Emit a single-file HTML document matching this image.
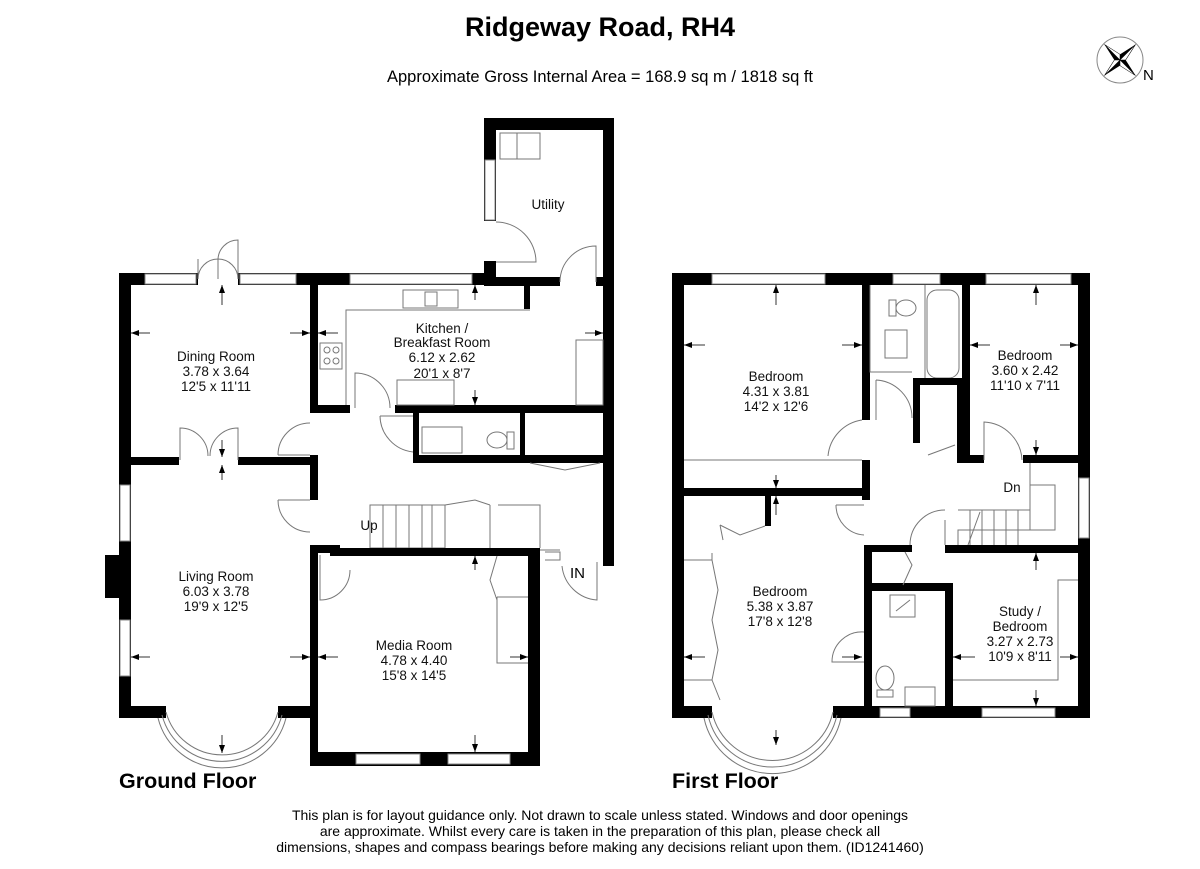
<!DOCTYPE html>
<html><head><meta charset="utf-8"><style>
html,body{margin:0;padding:0;background:#fff;}
svg{display:block;font-family:"Liberation Sans",Arial,sans-serif;}
.w{fill:#000}
.win{fill:#fff;stroke:#888;stroke-width:1}
.t{stroke:#777;stroke-width:1;fill:none}
.a{stroke:#333;stroke-width:1;fill:none;marker-end:url(#ah)}
.lbl{font-size:13.5px;text-anchor:middle;fill:#111}
</style></head><body>
<svg width="1200" height="869" viewBox="0 0 1200 869" xmlns="http://www.w3.org/2000/svg">
<defs><marker id="ah" markerWidth="8" markerHeight="6" refX="8" refY="3" orient="auto" markerUnits="userSpaceOnUse"><path d="M0,0 L8,3 L0,6 Z" fill="#000"/></marker></defs>
<text x="600" y="36" font-size="27" font-weight="bold" text-anchor="middle">Ridgeway Road, RH4</text>
<text x="600" y="82" font-size="16.5" text-anchor="middle">Approximate Gross Internal Area = 168.9 sq m / 1818 sq ft</text>
<!-- compass -->
<g transform="translate(1120,60)">
<circle r="23" fill="none" stroke="#888" stroke-width="1"/>
<g transform="rotate(-45)">
<polygon points="0,-22 4,-4 22,0 4,4 0,22 -4,4 -22,0 -4,-4" fill="#000"/>
<polygon points="0,-22 4,-4 0,0" fill="#fff" stroke="#000" stroke-width="0.5"/>
<polygon points="22,0 4,4 0,0" fill="#fff" stroke="#000" stroke-width="0.5"/>
<polygon points="0,22 -4,4 0,0" fill="#fff" stroke="#000" stroke-width="0.5"/>
<polygon points="-22,0 -4,-4 0,0" fill="#fff" stroke="#000" stroke-width="0.5"/>
</g>
</g>
<text x="1143" y="80" font-size="15">N</text>

<!-- ===== GROUND FLOOR ===== -->
<g>
<rect class="w" x="119" y="273" width="12" height="445"/>
<rect class="w" x="105" y="555" width="16" height="43"/>
<rect class="win" x="120" y="485" width="10" height="56"/>
<rect class="win" x="120" y="620" width="10" height="56"/>
<rect class="w" x="119" y="706" width="47" height="12"/>
<rect class="w" x="278" y="706" width="38" height="12"/>
<path class="t" d="M166 712 A58 58 0 0 0 278 712"/>
<path class="t" d="M162 715 A62 62 0 0 0 282 715"/>
<path class="t" d="M158 718 A66 66 0 0 0 286 718"/>
<rect class="w" x="119" y="273" width="377" height="12"/>
<rect class="win" x="145" y="274" width="51" height="10"/>
<rect class="win" x="240" y="274" width="56" height="10"/>
<rect fill="#fff" x="198" y="272" width="40" height="14"/>
<path class="t" d="M198 279 A20 20 0 0 1 218 259 L218 279 M238 279 A20 20 0 0 0 218 259"/>
<path class="t" d="M198 279 L198 259"/><path class="t" d="M238 279 L238 240 A20 20 0 0 0 218 260"/>
<rect class="win" x="350" y="274" width="122" height="10"/>
<!-- utility -->
<rect class="w" x="484" y="118" width="130" height="12"/>
<rect class="w" x="484" y="118" width="12" height="168"/>
<rect class="w" x="603" y="118" width="11" height="448"/>
<rect class="win" x="485" y="160" width="10" height="60"/>
<rect fill="#fff" x="483" y="221" width="14" height="40"/>
<path class="t" d="M496 262 L536 262 A40 40 0 0 0 496 222"/>
<rect class="w" x="496" y="277" width="64" height="9"/>
<rect class="w" x="596" y="277" width="10" height="9"/>
<path class="t" d="M560 282 A36 36 0 0 1 596 246 L596 282"/>
<rect class="t" x="500" y="133" width="40" height="26"/><line class="t" x1="517" y1="133" x2="517" y2="159"/>
<text class="lbl" x="548" y="209">Utility</text>
<!-- kitchen -->
<rect class="w" x="310" y="285" width="8" height="128"/>
<rect class="w" x="310" y="405" width="40" height="8"/>
<rect class="w" x="395" y="405" width="215" height="8"/>
<rect class="w" x="524" y="285" width="6" height="24"/>
<path class="t" d="M530 310 L346 310 L346 405 M355 408 L355 373 A35 35 0 0 1 390 408"/>
<rect class="t" x="320" y="343" width="22" height="26"/>
<circle class="t" cx="327" cy="350" r="3"/><circle class="t" cx="336" cy="350" r="3"/><circle class="t" cx="327" cy="361" r="3"/><circle class="t" cx="336" cy="361" r="3"/>
<rect class="t" x="403" y="290" width="55" height="18"/><rect class="t" x="425" y="292" width="12" height="14"/>
<rect class="t" x="397" y="380" width="57" height="25"/>
<rect class="t" x="576" y="340" width="27" height="65"/>
<text class="lbl" x="442" y="333">Kitchen /</text>
<text class="lbl" x="442" y="347">Breakfast Room</text>
<text class="lbl" x="442" y="362">6.12 x 2.62</text>
<text class="lbl" x="442" y="378">20'1 x 8'7</text>
<!-- WC / cupboard -->
<rect class="w" x="413" y="413" width="6" height="50"/>
<rect class="w" x="413" y="455" width="195" height="8"/>
<rect class="w" x="520" y="413" width="5" height="44"/>
<rect class="t" x="422" y="427" width="40" height="26"/>
<ellipse class="t" cx="497" cy="440" rx="10" ry="8"/><rect class="t" x="507" y="432" width="7" height="17"/>
<path class="t" d="M380 416 L413 416 M380 416 A37 37 0 0 0 413 452"/>
<path class="t" d="M530 463 L565 470 L600 463"/>
<!-- dining bottom / hall -->
<rect class="w" x="119" y="457" width="60" height="8"/>
<rect class="w" x="238" y="457" width="80" height="8"/>
<path class="t" d="M180 460 L180 428 A28 28 0 0 1 208 456 M238 460 L238 428 A28 28 0 0 0 210 456"/>
<rect class="w" x="310" y="455" width="8" height="45"/>
<path class="t" d="M278 455 L310 455 M278 455 A32 32 0 0 1 310 423"/>
<path class="t" d="M278 500 L310 500 M278 500 A32 32 0 0 0 310 532"/>
<rect class="w" x="310" y="545" width="8" height="221"/>
<text class="lbl" x="216" y="361">Dining Room</text>
<text class="lbl" x="216" y="376">3.78 x 3.64</text>
<text class="lbl" x="216" y="391">12'5 x 11'11</text>
<text class="lbl" x="216" y="581">Living Room</text>
<text class="lbl" x="216" y="596">6.03 x 3.78</text>
<text class="lbl" x="216" y="611">19'9 x 12'5</text>
<!-- stairs -->
<path class="t" d="M370 505 L445 505 L445 548 L370 548 Z M383 505 V548 M396 505 V548 M409 505 V548 M422 505 V548 M432 505 V548"/>
<path class="t" d="M445 505 L475 500 L490 505 M498 505 H540 V548 M490 505 V548"/>
<text class="lbl" x="369" y="530">Up</text>
<!-- media room -->
<rect class="w" x="310" y="545" width="30" height="8"/>
<rect class="w" x="330" y="548" width="210" height="8"/>
<rect class="w" x="528" y="548" width="12" height="218"/>
<rect class="w" x="310" y="752" width="230" height="14"/>
<rect class="win" x="356" y="754" width="64" height="10"/>
<rect class="win" x="448" y="754" width="62" height="10"/>
<path class="t" d="M320 555 L320 600 A30 30 0 0 0 350 570"/>
<path class="t" d="M497 556 L490 580 L497 600 M497 597 H528 M497 597 V663 H528"/>
<path class="t" d="M540 550 H560 M545 552 H560 V560 H545"/>
<path class="t" d="M597 562 V600 A38 38 0 0 1 562 566"/>
<text x="570" y="578" font-size="15">IN</text>
<text class="lbl" x="414" y="650">Media Room</text>
<text class="lbl" x="414" y="665">4.78 x 4.40</text>
<text class="lbl" x="414" y="680">15'8 x 14'5</text>
<!-- dimension arrows -->
<path class="a" d="M150 333 H131"/><path class="a" d="M290 333 H310"/>
<path class="a" d="M222 305 V285"/><path class="a" d="M222 440 V457"/>
<path class="a" d="M338 333 H318"/><path class="a" d="M585 333 H603"/>
<path class="a" d="M475 300 V285"/><path class="a" d="M475 390 V405"/>
<path class="a" d="M150 657 H131"/><path class="a" d="M290 657 H310"/>
<path class="a" d="M222 480 V465"/><path class="a" d="M222 735 V753"/>
<path class="a" d="M338 657 H318"/><path class="a" d="M510 657 H528"/>
<path class="a" d="M475 570 V556"/><path class="a" d="M475 735 V752"/>
</g>
<text x="119" y="788" font-size="21.5" font-weight="bold">Ground Floor</text>

<!-- ===== FIRST FLOOR ===== -->
<g>
<rect class="w" x="672" y="273" width="418" height="12"/>
<rect class="win" x="712" y="274" width="113" height="10"/>
<rect class="win" x="893" y="274" width="47" height="10"/>
<rect class="win" x="986" y="274" width="85" height="10"/>
<rect class="w" x="672" y="273" width="12" height="445"/>
<rect class="w" x="1078" y="273" width="12" height="445"/>
<rect class="win" x="1079" y="478" width="10" height="60"/>
<rect class="w" x="672" y="706" width="40" height="12"/>
<rect class="w" x="833" y="706" width="257" height="12"/>
<rect class="win" x="880" y="708" width="30" height="9"/>
<rect class="win" x="982" y="708" width="73" height="9"/>
<path class="t" d="M712 712 A62 62 0 0 0 833 712"/>
<path class="t" d="M708 715 A66 66 0 0 0 837 715"/>
<path class="t" d="M704 718 A70 70 0 0 0 841 718"/>
<rect class="w" x="862" y="285" width="8" height="135"/>
<rect class="w" x="862" y="460" width="8" height="40"/>
<rect class="w" x="684" y="488" width="186" height="8"/>
<path class="t" d="M684 460 H862 M862 420 A40 40 0 0 0 828 456"/>
<text class="lbl" x="776" y="381">Bedroom</text>
<text class="lbl" x="776" y="396">4.31 x 3.81</text>
<text class="lbl" x="776" y="411">14'2 x 12'6</text>
<path class="t" d="M870 285 V372 H912 M925 285 V378"/>
<rect class="t" x="927" y="290" width="32" height="88" rx="10"/>
<ellipse class="t" cx="906" cy="308" rx="10" ry="8"/><rect class="t" x="889" y="300" width="7" height="16"/>
<rect class="t" x="885" y="330" width="22" height="28"/>
<rect class="w" x="913" y="378" width="52" height="7"/>
<rect class="w" x="913" y="378" width="7" height="65"/>
<rect class="w" x="957" y="378" width="8" height="85"/>
<path class="t" d="M876 380 V420 M876 380 A38 38 0 0 1 912 418"/>
<path class="t" d="M928 455 L955 445"/>
<rect class="w" x="962" y="285" width="8" height="178"/>
<rect class="w" x="962" y="455" width="22" height="8"/>
<rect class="w" x="1023" y="455" width="67" height="8"/>
<path class="t" d="M984 460 V422 A40 40 0 0 1 1022 460"/>
<text class="lbl" x="1025" y="360">Bedroom</text>
<text class="lbl" x="1025" y="375">3.60 x 2.42</text>
<text class="lbl" x="1025" y="390">11'10 x 7'11</text>
<path class="t" d="M1030 463 V530 M1030 485 H1055 V530 H958 V545 M958 510 H1030 M970 510 V545 M982 510 V545 M994 510 V545 M1006 510 V545 M1018 510 V545 M968 545 L980 512"/>
<text class="lbl" x="1012" y="492">Dn</text>
<rect class="w" x="945" y="545" width="145" height="8"/>
<path class="t" d="M945 520 V545 M910 545 A35 35 0 0 1 945 510"/>
<path class="t" d="M836 505 H864 M836 505 A30 30 0 0 0 864 535"/>
<rect class="w" x="864" y="545" width="8" height="173"/>
<rect class="w" x="864" y="545" width="48" height="7"/>
<rect class="w" x="864" y="583" width="88" height="8"/>
<rect class="w" x="945" y="583" width="8" height="125"/>
<path class="t" d="M905 552 L912 565 L903 585"/>
<path class="t" d="M864 632 A30 30 0 0 0 832 662 H864"/>
<rect class="t" x="890" y="595" width="25" height="22"/><line class="t" x1="896" y1="611" x2="910" y2="600"/>
<ellipse class="t" cx="885" cy="678" rx="9" ry="12"/><rect class="t" x="877" y="690" width="16" height="7"/>
<rect class="t" x="905" y="687" width="30" height="19"/>
<path class="t" d="M953 680 H1058 V580 H1078"/>
<text class="lbl" x="1020" y="616">Study /</text>
<text class="lbl" x="1020" y="631">Bedroom</text>
<text class="lbl" x="1020" y="646">3.27 x 2.73</text>
<text class="lbl" x="1020" y="661">10'9 x 8'11</text>
<rect class="w" x="765" y="496" width="6" height="30"/>
<path class="t" d="M720 525 L740 535 L765 526 M720 525 L723 540 M684 560 H712 L718 590 L712 620 L718 650 L712 680 H684 M712 560 V553 M684 680 H712 L720 700"/>
<text class="lbl" x="780" y="596">Bedroom</text>
<text class="lbl" x="780" y="611">5.38 x 3.87</text>
<text class="lbl" x="780" y="626">17'8 x 12'8</text>
<!-- dimension arrows -->
<path class="a" d="M705 345 H684"/><path class="a" d="M842 345 H862"/>
<path class="a" d="M776 305 V285"/><path class="a" d="M776 475 V488"/>
<path class="a" d="M990 345 H970"/><path class="a" d="M1060 345 H1078"/>
<path class="a" d="M1036 305 V285"/><path class="a" d="M1036 440 V455"/>
<path class="a" d="M705 657 H684"/><path class="a" d="M842 657 H862"/>
<path class="a" d="M776 515 V496"/><path class="a" d="M776 730 V745"/>
<path class="a" d="M975 657 H953"/><path class="a" d="M1060 657 H1078"/>
<path class="a" d="M1036 570 V553"/><path class="a" d="M1036 690 V706"/>
</g>
<text x="672" y="788" font-size="21.5" font-weight="bold">First Floor</text>

<text x="600" y="820" font-size="14" text-anchor="middle">This plan is for layout guidance only. Not drawn to scale unless stated. Windows and door openings</text>
<text x="600" y="836" font-size="14" text-anchor="middle">are approximate. Whilst every care is taken in the preparation of this plan, please check all</text>
<text x="600" y="852" font-size="14" text-anchor="middle">dimensions, shapes and compass bearings before making any decisions reliant upon them. (ID1241460)</text>
</svg>
</body></html>
